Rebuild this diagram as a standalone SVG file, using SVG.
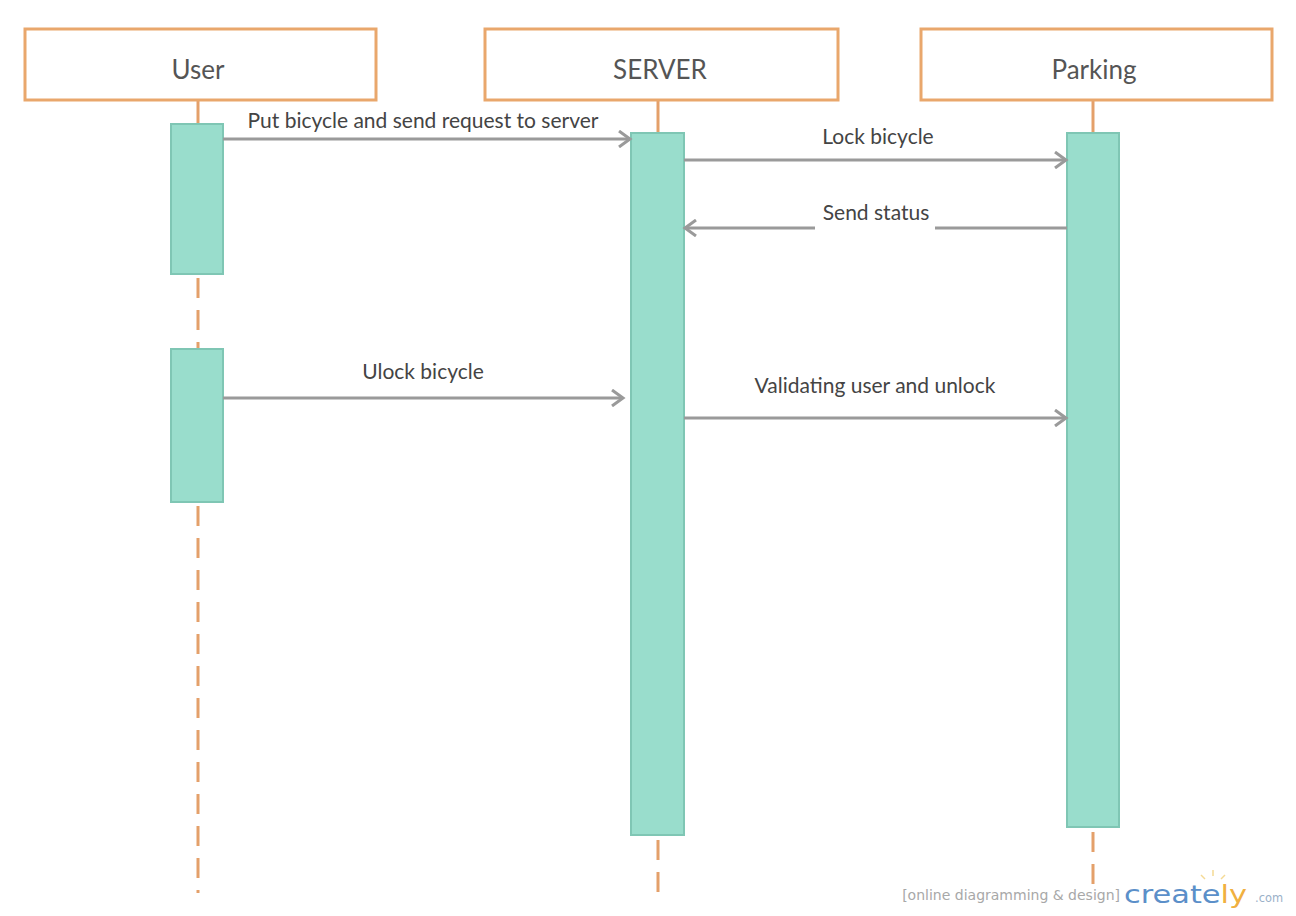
<svg xmlns="http://www.w3.org/2000/svg" width="1296" height="916" viewBox="0 0 1296 916">
  <style>
    .head { fill: #ffffff; stroke: #e9a76c; stroke-width: 3; }
    .head-label { font-family: Lato, "Open Sans", sans-serif; font-size: 26px; fill: #555555; text-anchor: middle; }
    .life { stroke: #e4a06a; stroke-width: 3; fill: none; }
    .life-dash { stroke: #e4a06a; stroke-width: 3; fill: none; stroke-dasharray: 20 12; }
    .act { fill: #99ddcc; stroke: #7fc6b4; stroke-width: 2; }
    .msg { stroke: #9a9a9a; stroke-width: 3; fill: none; }
    .msg-label { font-family: Lato, "Open Sans", sans-serif; font-size: 21px; fill: #444444; text-anchor: middle; }
  </style>
  <defs>
    <marker id="open-arrow" markerWidth="16" markerHeight="18" refX="13" refY="9" orient="auto" markerUnits="userSpaceOnUse">
      <polyline points="2,1 13,9 2,17" fill="none" stroke="#9a9a9a" stroke-width="3"/>
    </marker>
  </defs>
  <rect width="1296" height="916" fill="#ffffff"/>

  <!-- lifelines -->
  <g id="lifelines">
    <line class="life" x1="198" y1="100" x2="198" y2="124"/>
    <line class="life-dash" x1="198" y1="278" x2="198" y2="349"/>
    <line class="life-dash" x1="198" y1="506" x2="198" y2="893"/>
    <line class="life" x1="658" y1="100" x2="658" y2="133"/>
    <line class="life-dash" x1="658" y1="840" x2="658" y2="893"/>
    <line class="life" x1="1093" y1="100" x2="1093" y2="133"/>
    <line class="life-dash" x1="1093" y1="832" x2="1093" y2="893"/>
  </g>

  <!-- participants -->
  <g id="user">
    <rect class="head" x="25" y="29" width="351" height="71"/>
    <text class="head-label" x="198" y="79">User</text>
    <rect class="act" x="171" y="124" width="52" height="150"/>
    <rect class="act" x="171" y="349" width="52" height="153"/>
  </g>
  <g id="server">
    <rect class="head" x="485" y="29" width="353" height="71"/>
    <text class="head-label" x="660" y="79">SERVER</text>
    <rect class="act" x="631" y="133" width="53" height="702"/>
  </g>
  <g id="parking">
    <rect class="head" x="921" y="29" width="351" height="71"/>
    <text class="head-label" x="1094" y="79">Parking</text>
    <rect class="act" x="1067" y="133" width="52" height="694"/>
  </g>

  <!-- messages -->
  <g id="connectors">
    <line class="msg" x1="223" y1="139" x2="630" y2="139" marker-end="url(#open-arrow)"/>
    <text class="msg-label" x="423" y="128">Put bicycle and send request to server</text>

    <line class="msg" x1="684" y1="160" x2="1066" y2="160" marker-end="url(#open-arrow)"/>
    <text class="msg-label" x="878" y="144">Lock bicycle</text>

    <line class="msg" x1="1067" y1="228" x2="935" y2="228"/>
    <line class="msg" x1="815" y1="228" x2="685" y2="228" marker-end="url(#open-arrow)"/>
    <text class="msg-label" x="876" y="220">Send status</text>

    <line class="msg" x1="223" y1="398" x2="623" y2="398" marker-end="url(#open-arrow)"/>
    <text class="msg-label" x="423" y="379">Ulock bicycle</text>

    <line class="msg" x1="684" y1="418" x2="1066" y2="418" marker-end="url(#open-arrow)"/>
    <text class="msg-label" x="875" y="393">Validating user and unlock</text>
  </g>

  <!-- footer logo -->
  <g id="logo">
    <text x="1120" y="900" font-family="DejaVu Sans, sans-serif" font-size="14" fill="#a8a8a8" text-anchor="end">[online diagramming &amp; design]</text>
    <text x="1124" y="903" font-family="DejaVu Sans, sans-serif" font-size="25" fill="#5b8fc9" textLength="123" lengthAdjust="spacingAndGlyphs">create<tspan fill="#f0b040">ly</tspan></text>
    <text x="1255" y="902" font-family="DejaVu Sans, sans-serif" font-size="13" fill="#9ab0c8" textLength="28" lengthAdjust="spacingAndGlyphs">.com</text>
    <g stroke="#f3d27a" stroke-width="1.5" opacity="0.8">
      <line x1="1213" y1="876" x2="1213" y2="870"/>
      <line x1="1205" y1="879" x2="1201" y2="875"/>
      <line x1="1221" y1="879" x2="1225" y2="875"/>
    </g>
  </g>
</svg>
